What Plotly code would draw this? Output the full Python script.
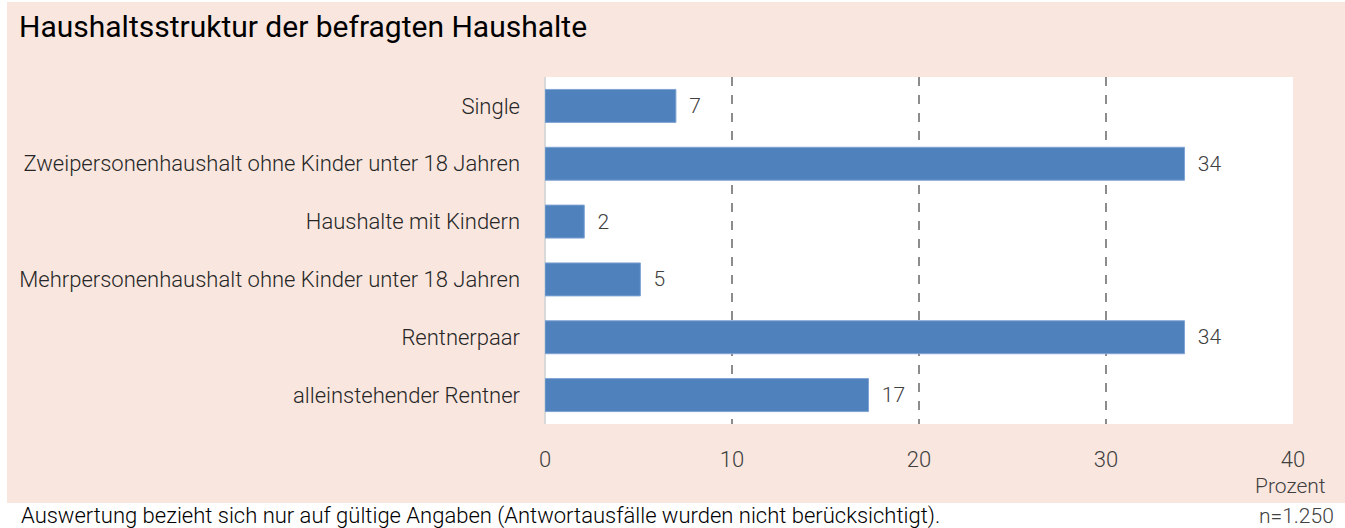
import plotly.graph_objects as go

categories = [
    "Single",
    "Zweipersonenhaushalt ohne Kinder unter 18 Jahren",
    "Haushalte mit Kindern",
    "Mehrpersonenhaushalt ohne Kinder unter 18 Jahren",
    "Rentnerpaar",
    "alleinstehender Rentner",
]
values = [7.0, 34.2, 2.1, 5.1, 34.2, 17.3]
value_labels = ["7", "34", "2", "5", "34", "17"]
x_ticks = [0, 10, 20, 30, 40]

W, H = 1345, 528
L, R, T, B = 545, 52, 77, 104
pw, ph = W - L - R, H - T - B


def px_x(x):
    return (x - L) / pw


def px_y(y):
    return (H - B - y) / ph


FONT = "Roboto"
TXT = "#404040"
NB = "\u00a0"

fig = go.Figure()
fig.add_trace(go.Bar(
    y=categories, x=values, orientation="h",
    marker=dict(color="#4F81BD", line=dict(color="#7FA3D3", width=1)),
    width=0.57,
    text=[NB * 2 + t for t in value_labels], textposition="outside",
    textfont=dict(family=FONT, size=21, color=TXT, weight=300),
    cliponaxis=False,
    hoverinfo="skip",
))

shapes = [
    dict(type="rect", xref="paper", yref="paper", layer="below",
         x0=px_x(7), x1=px_x(1345), y0=px_y(503), y1=px_y(2),
         fillcolor="#F9E6DF", line=dict(width=0)),
    dict(type="rect", xref="paper", yref="paper", layer="below",
         x0=0, x1=1, y0=0, y1=1, fillcolor="white", line=dict(width=0)),
]

annotations = [
    dict(text="Haushaltsstruktur der befragten Haushalte", xref="paper", yref="paper",
         x=px_x(17), y=px_y(26), xanchor="left", yanchor="middle", showarrow=False,
         font=dict(family=FONT, size=30, color="black")),
    dict(text="Prozent", xref="paper", yref="paper",
         x=px_x(1290), y=px_y(486), xanchor="center", yanchor="middle", showarrow=False,
         font=dict(family=FONT, size=21, color=TXT, weight=300)),
    dict(text="n=1.250", xref="paper", yref="paper",
         x=px_x(1336), y=px_y(516), xanchor="right", yanchor="middle", showarrow=False,
         font=dict(family=FONT, size=21, color=TXT, weight=300)),
    dict(text="Auswertung bezieht sich nur auf gültige Angaben (Antwortausfälle wurden nicht berücksichtigt).",
         xref="paper", yref="paper",
         x=px_x(19), y=px_y(516), xanchor="left", yanchor="middle", showarrow=False,
         font=dict(family=FONT, size=22, color="black", weight=300)),
]

fig.update_layout(
    width=W, height=H,
    margin=dict(l=L, r=R, t=T, b=B, autoexpand=False, pad=0),
    paper_bgcolor="white", plot_bgcolor="white",
    showlegend=False,
    shapes=shapes, annotations=annotations,
)
fig.update_xaxes(
    range=[0, 40], tickvals=x_ticks, ticktext=[str(t) for t in x_ticks],
    showgrid=True, gridcolor="#8C8C8C", griddash="dash", gridwidth=1.5,
    zeroline=True, zerolinecolor="#D9D9D9", zerolinewidth=2,
    showline=False, ticks="", ticklabelstandoff=20,
    tickfont=dict(family=FONT, size=22, color=TXT, weight=300), fixedrange=True,
)
fig.update_yaxes(
    categoryorder="array", categoryarray=categories[::-1],
    range=[-0.5, 5.5], showgrid=False, zeroline=False, showline=False, ticks="",
    ticklabelstandoff=24,
    tickfont=dict(family=FONT, size=22, color="#262626", weight=300), fixedrange=True,
)

fig.write_html(
    "out.html",
    config={"displayModeBar": False},
    post_script="document.body.style.margin='0';document.body.style.overflow='hidden';",
)
